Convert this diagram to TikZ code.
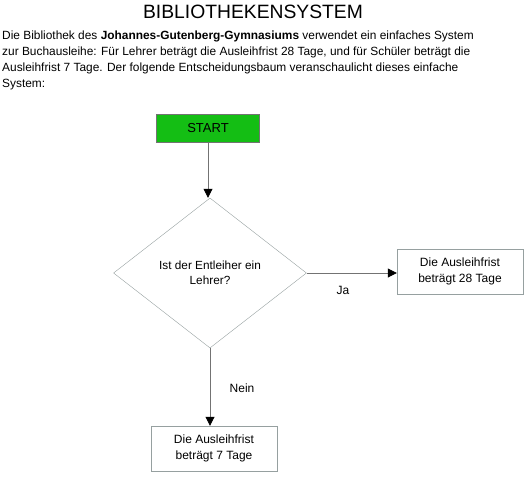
\documentclass[tikz,border=0pt]{standalone}
\usepackage{fontspec}
\setmainfont{Liberation Sans}
\usetikzlibrary{shapes.geometric,arrows.meta}
\definecolor{startgreen}{RGB}{20,190,20}
\definecolor{linegray}{RGB}{115,115,115}
\definecolor{edgegray}{RGB}{150,160,160}

\begin{document}
\begin{tikzpicture}[
    x=1pt, y=1pt,
    box/.style={draw=edgegray, minimum width=126pt, minimum height=45pt, align=center, font=\fontsize{12}{15.5}\selectfont},
    decision/.style={draw=edgegray, diamond, minimum width=193pt, minimum height=150pt, inner sep=0pt, align=center, font=\fontsize{11.8}{15}\selectfont},
    arrow/.style={-{Triangle[width=9pt,length=9pt,color=black]}, draw=linegray, thick},
    label/.style={font=\fontsize{12}{14}\selectfont}
  ]
    \useasboundingbox (0,0) rectangle (524,-476);
    \node[font=\fontsize{19.3}{22}\selectfont] (title) at (253,-12) {BIBLIOTHEKENSYSTEM};
    \node[anchor=north west, align=left, inner sep=0pt, font=\fontsize{11.9}{16}\selectfont] (intro) at (2,-31)
      {Die Bibliothek des \textbf{Johannes-Gutenberg-Gymnasiums} verwendet ein einfaches System\\
       zur Buchausleihe: Für Lehrer beträgt die Ausleihfrist 28 Tage, und für Schüler beträgt die\\
       Ausleihfrist 7 Tage. Der folgende Entscheidungsbaum veranschaulicht dieses einfache\\
       System:};
    \node[draw=linegray, fill=startgreen, minimum width=103pt, minimum height=28pt, font=\fontsize{13}{15}\selectfont] (start) at (208,-128) {START};
    \node[decision] (teacher) at (210,-273) {Ist der Entleiher ein\\Lehrer?};
    \node[box] (long) at (460,-271.5) {Die Ausleihfrist\\beträgt 28 Tage};
    \node[box] (short) at (214,-448.5) {Die Ausleihfrist\\beträgt 7 Tage};
    \draw[arrow] (start.south) -- (start.south |- teacher.north);
    \draw[arrow] (teacher.east) -- (long.west |- teacher.east);
    \draw[arrow] (teacher.south) -- (teacher.south |- short.north);
    \node[label] (yes) at (343,-290) {Ja};
    \node[label] (no) at (242,-388) {Nein};
  \end{tikzpicture}
\end{document}
